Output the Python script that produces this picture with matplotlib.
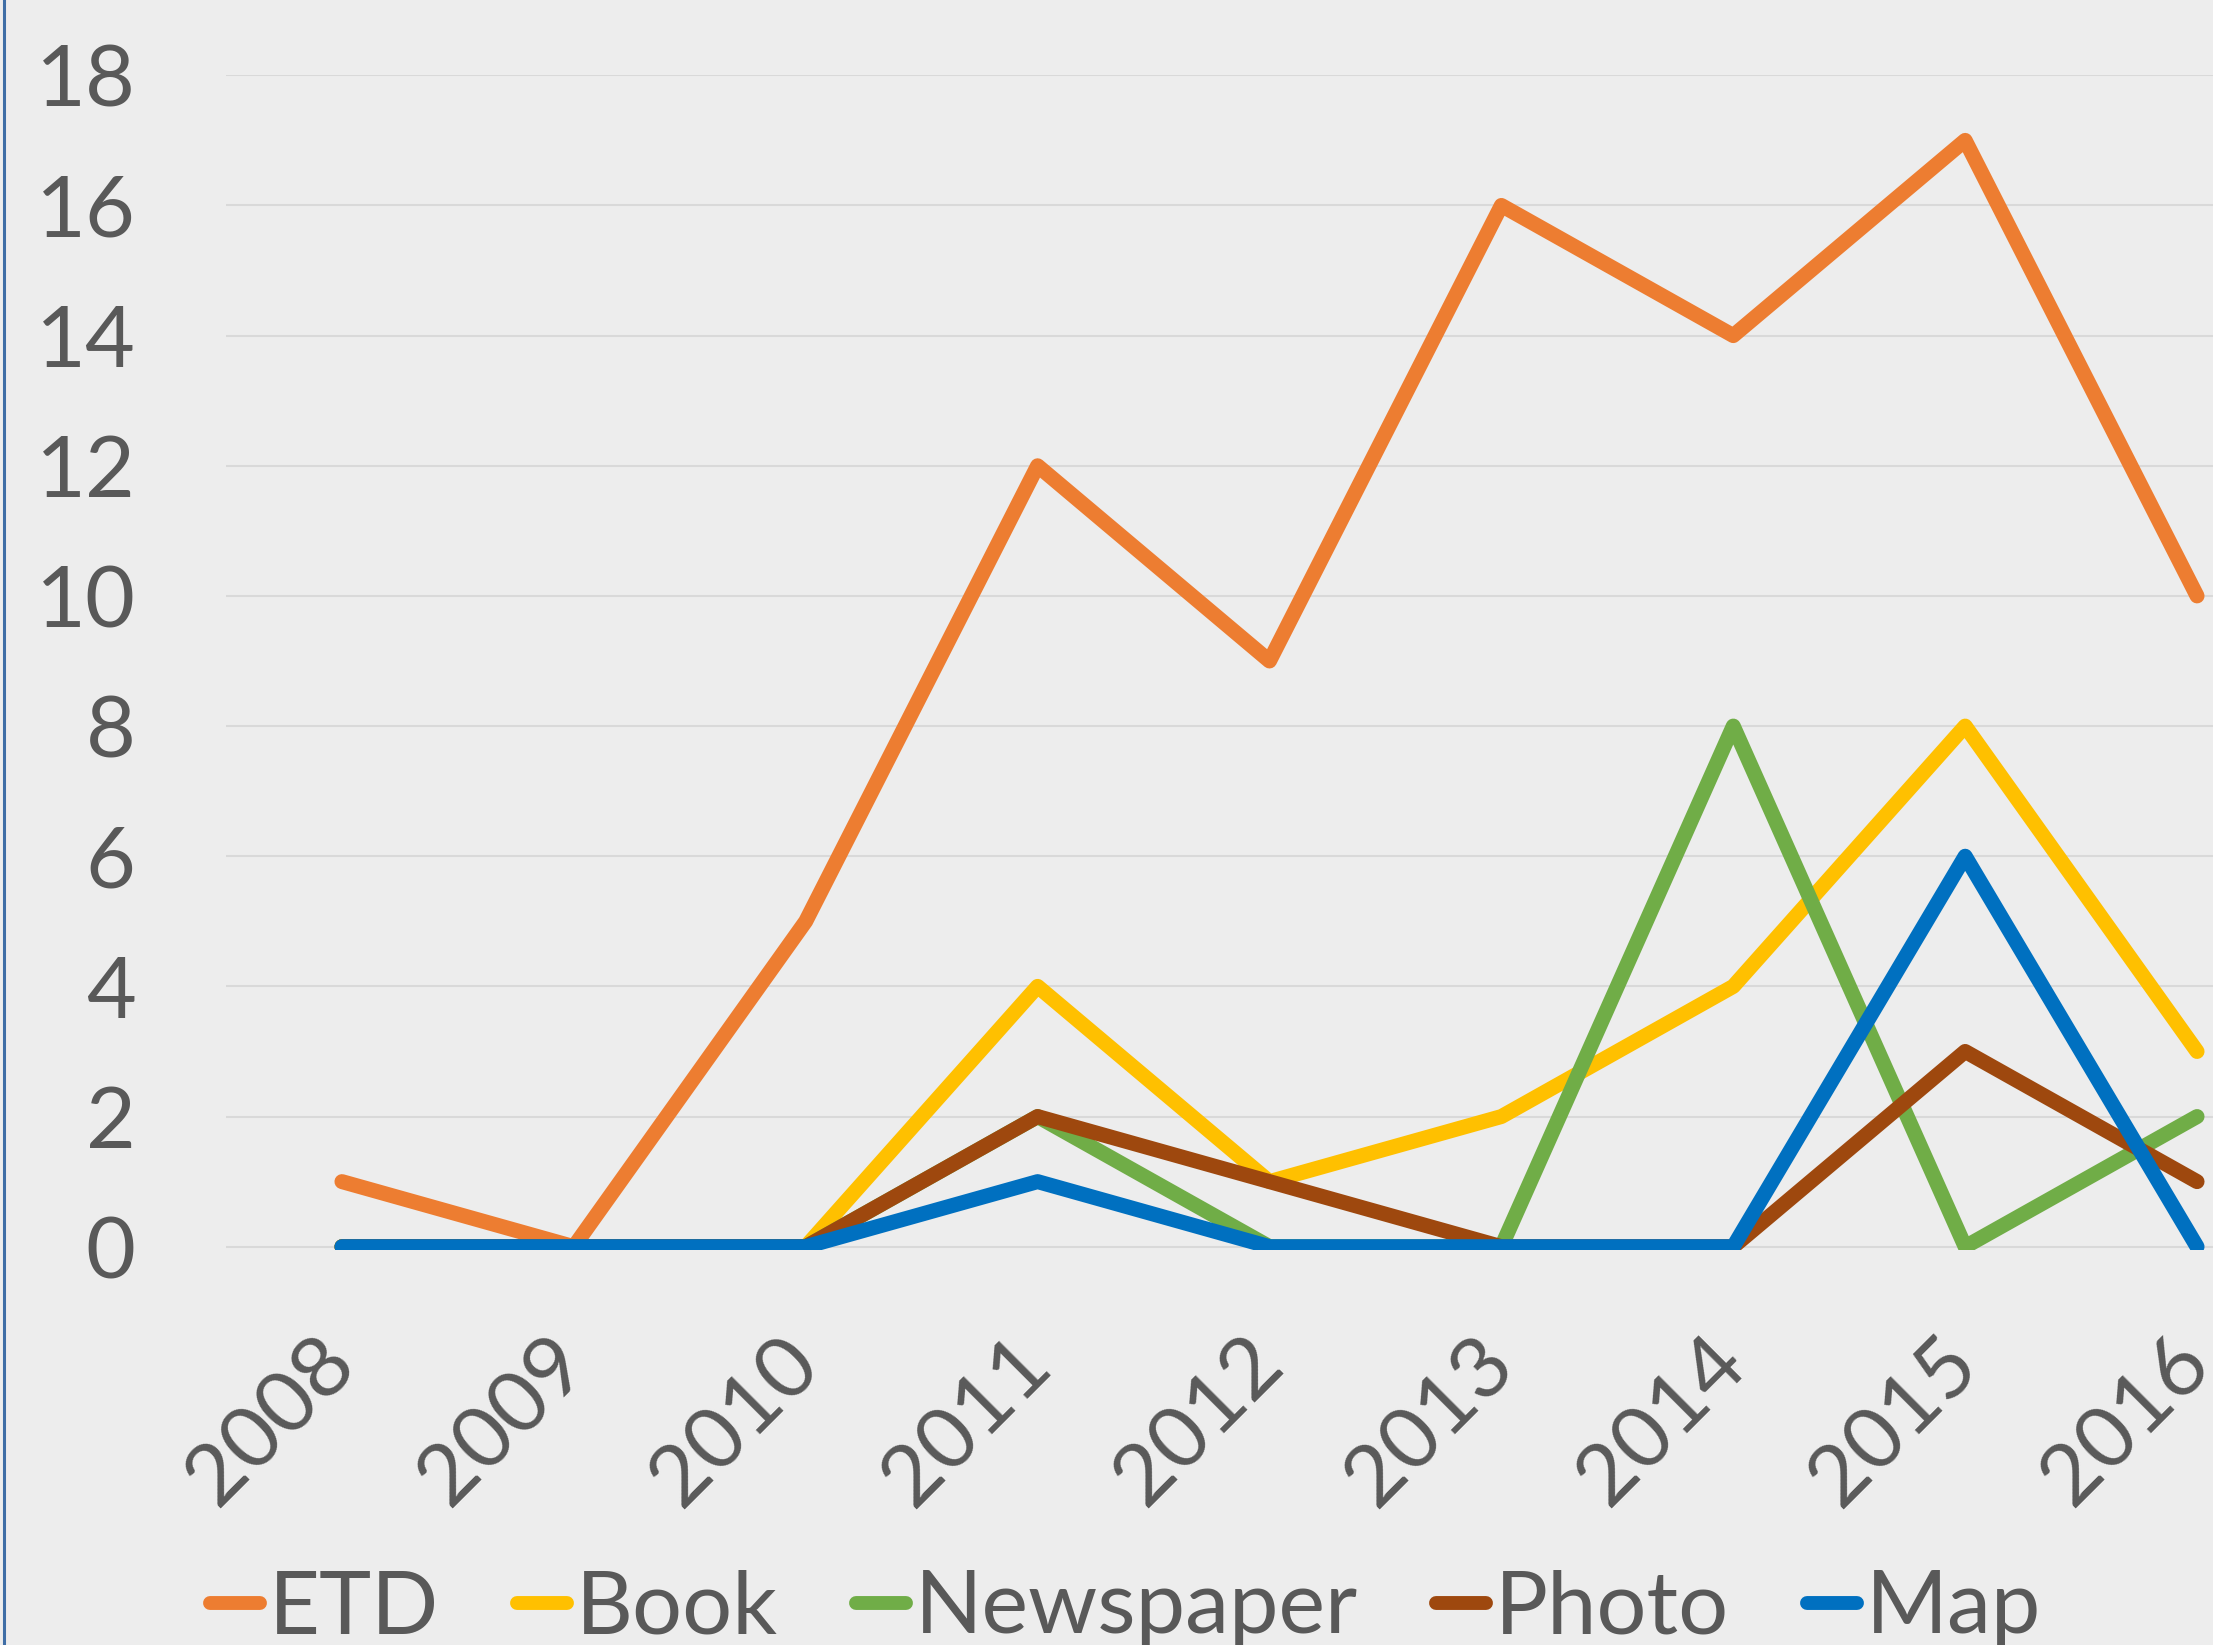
import matplotlib
matplotlib.use("Agg")
import matplotlib.pyplot as plt
from matplotlib.lines import Line2D

years = ["2008", "2009", "2010", "2011", "2012", "2013", "2014", "2015", "2016"]
etd = [1, 0, 5, 12, 9, 16, 14, 17, 10]
book = [0, 0, 0, 4, 1, 2, 4, 8, 3]
newspaper = [0, 0, 0, 2, 0, 0, 8, 0, 2]
photo = [0, 0, 0, 2, 1, 0, 0, 3, 1]
map_ = [0, 0, 0, 1, 0, 0, 0, 6, 0]

series = [("ETD", etd, "#ED7D31"), ("Book", book, "#FFC000"),
          ("Newspaper", newspaper, "#70AD47"), ("Photo", photo, "#9E480E"),
          ("Map", map_, "#0070C0")]

plt.rcParams['font.family'] = ['Lato', 'DejaVu Sans']
W, H = 2213, 1645
fig = plt.figure(figsize=(W / 100, H / 100), dpi=100)
bg = "#EDEDED"
fig.patch.set_facecolor(bg)

left, right, top, zero_px, clip_px = 226, 2313, 75.3, 1246.7, 1249.5
ppu = (zero_px - top) / 18.0
ymin = -(clip_px - zero_px) / ppu
ax = fig.add_axes([left / W, (H - clip_px) / H, (right - left) / W, (clip_px - top) / H])
ax.set_facecolor(bg)

x = list(range(len(years)))
for name, vals, col in series:
    ax.plot(x, vals, color=col, lw=10.8, solid_capstyle='round', solid_joinstyle='round',
            clip_on=True, label=name, zorder=3)

ax.set_xlim(-0.5, len(years) - 0.5)
ax.set_ylim(ymin, 18)
ax.set_yticks(range(0, 19, 2))
ax.yaxis.grid(True, color="#D9D9D9", lw=1.5)
ax.set_axisbelow(True)
for s in ax.spines.values():
    s.set_visible(False)

txt = "#595959"
ax.tick_params(axis='y', length=0, pad=65, labelsize=62, labelcolor=txt)
ax.tick_params(axis='x', length=0, pad=73, labelsize=62, labelcolor=txt)
ax.set_xticks(x)
ax.set_xticklabels(years, rotation=45, ha='right', va='center', rotation_mode='anchor')

# left border
fig.add_artist(Line2D([4 / W, 4 / W], [0, 1], color="#3F6EA6", lw=2.2, transform=fig.transFigure))

handles = [Line2D([], [], color=c, lw=10, solid_capstyle='round') for _, _, c in series]
labels = [n for n, _, _ in series]
fig.legend(handles, labels, loc='center left', bbox_to_anchor=(210 / W, (H - 1609) / H),
           ncol=5, frameon=False, fontsize=63.5, labelcolor=txt, handlelength=0.57,
           handletextpad=0.1, columnspacing=0.88, borderpad=0, borderaxespad=0)

fig.savefig("out.png", dpi=100, facecolor=bg)
